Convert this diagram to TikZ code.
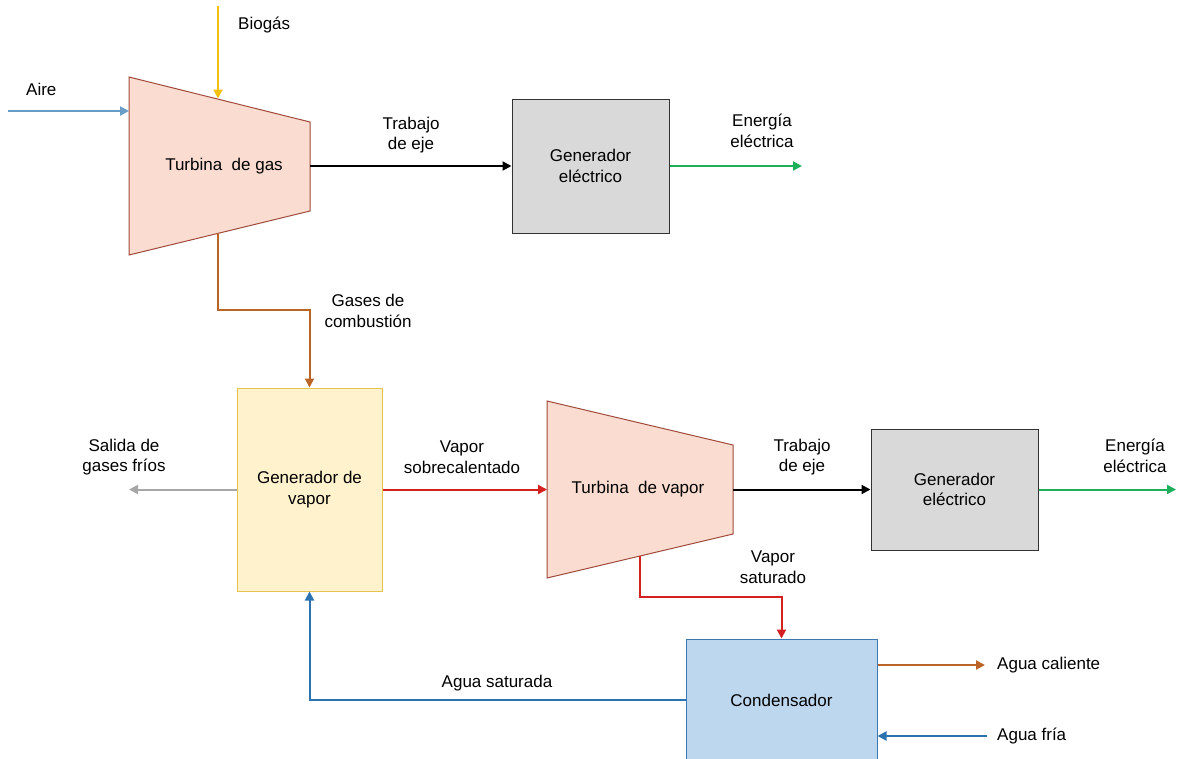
\documentclass[tikz,border=0pt]{standalone}
\usepackage{fontspec}
\setmainfont{Liberation Sans}
\usetikzlibrary{arrows.meta,calc}
\definecolor{cturbfill}{HTML}{FADCD0}
\definecolor{cturbline}{HTML}{A04A3C}
\definecolor{cgray}{HTML}{D9D9D9}
\definecolor{cyelfill}{HTML}{FFF2CC}
\definecolor{cyelline}{HTML}{E6C24E}
\definecolor{cbluefill}{HTML}{BDD7EE}
\definecolor{cblueline}{HTML}{3F78B0}
\definecolor{caire}{HTML}{6A9CC8}
\definecolor{cbio}{HTML}{F2C010}
\definecolor{cbrown}{HTML}{BA6526}
\definecolor{cred}{HTML}{D42020}
\definecolor{cgreen}{HTML}{1FAF5C}
\definecolor{cgrayarr}{HTML}{A6A6A6}
\definecolor{cwater}{HTML}{2C72B0}
\tikzset{
	flow/.style={line width=2pt,-{Triangle[length=9pt,width=9pt]}},
	turb/.style={draw=cturbline,fill=cturbfill,line width=1pt},
	unit/.style={draw,line width=1pt,align=center,inner sep=0pt},
	lbl/.style={align=center,inner sep=0pt}
}
\begin{document}
\begin{tikzpicture}[x=1pt,y=-1pt,font=\fontsize{17}{20.5}\selectfont]
	\useasboundingbox (0,0) rectangle (1177,758);
	\clip (0,0) rectangle (1177,758);
	% turbinas
	\path
	(129,77) coordinate (tgA)
	(310,122) coordinate (tgB)
	(310,211) coordinate (tgC)
	(129,255) coordinate (tgD)
	(547,401) coordinate (tvA)
	(733,445) coordinate (tvB)
	(733,534) coordinate (tvC)
	(547,578) coordinate (tvD);
	\foreach \t in {tg,tv} \draw[turb] (\t A)--(\t B)--(\t C)--(\t D)--cycle;
	\node[lbl] (tg) at (224,166) {Turbina\ \ de gas};
	\node[lbl] (tv) at (638,489.5) {Turbina\ \ de vapor};
	% equipos
	\node[unit,fill=cgray,draw=black!80,minimum width=157,minimum height=134] (ge1) at (590.5,166) {Generador\\eléctrico};
	\node[unit,fill=cgray,draw=black!80,minimum width=167,minimum height=121] (ge2) at (954.5,489.5) {Generador\\eléctrico};
	\node[unit,fill=cyelfill,draw=cyelline,minimum width=145,minimum height=203] (gv) at (309.5,489.5) {Generador de\\vapor};
	\node[unit,fill=cbluefill,draw=cblueline,minimum width=191,minimum height=122] (cond) at (781.5,700) {Condensador};
	% puntos libres
	\path
	(8,111) coordinate (aireIn)
	(129,111) coordinate (tgIn)
	(218,6) coordinate (bioIn)
	(218,98.5) coordinate (tgTop)
	(310,166) coordinate (tgOut)
	(218,233) coordinate (tgBot)
	(802,166) coordinate (ee1)
	(129,489.5) coordinate (salida)
	(547,489.5) coordinate (tvIn)
	(733,489.5) coordinate (tvOut)
	(1176,489.5) coordinate (ee2)
	(640,556) coordinate (tvBot)
	(985,665) coordinate (caliente)
	(987,736) coordinate (fria);
	% flujos
	\draw[flow,caire] (aireIn) -- (tgIn);
	\draw[flow,cbio] (bioIn) -- (tgTop);
	\draw[flow,black] (tgOut) -- (ge1);
	\draw[flow,cgreen] (ge1) -- (ee1);
	\draw[flow,cbrown] (tgBot) -- ++(0,77) -| (gv.north);
	\draw[flow,cgrayarr] (gv) -- (salida);
	\draw[flow,cred] (gv) -- (tvIn);
	\draw[flow,black] (tvOut) -- (ge2);
	\draw[flow,cgreen] (ge2) -- (ee2);
	\draw[flow,cred] (tvBot) -- ++(0,41) -| (cond.north);
	\draw[flow,cbrown] (cond.east |- caliente) -- (caliente);
	\draw[flow,cwater] (fria) -- (cond.east |- fria);
	\draw[flow,cwater] (cond.west) -| (gv.south);
	% etiquetas
	\node[lbl,anchor=west] (laire) at (26,89) {Aire};
	\node[lbl,anchor=west] (lbio) at (238,25) {Biogás};
	\node[lbl] (ltr1) at (411,135) {Trabajo\\de eje};
	\node[lbl] (lee1) at (762,131) {Energía\\eléctrica};
	\node[lbl] (lgas) at (368,311) {Gases de\\combustión};
	\node[lbl] (lsal) at (124,457) {Salida de\\gases fríos};
	\node[lbl] (lvs) at (462,457) {Vapor\\sobrecalentado};
	\node[lbl] (ltr2) at (802,457) {Trabajo\\de eje};
	\node[lbl] (lee2) at (1135,456) {Energía\\eléctrica};
	\node[lbl] (lvsat) at (773,567) {Vapor\\saturado};
	\node[lbl,anchor=west] (lcal) at (997,665) {Agua caliente};
	\node[lbl,anchor=west] (lfria) at (997,736) {Agua fría};
	\node[lbl] (lsat) at (497,683) {Agua saturada};
\end{tikzpicture}
\end{document}
